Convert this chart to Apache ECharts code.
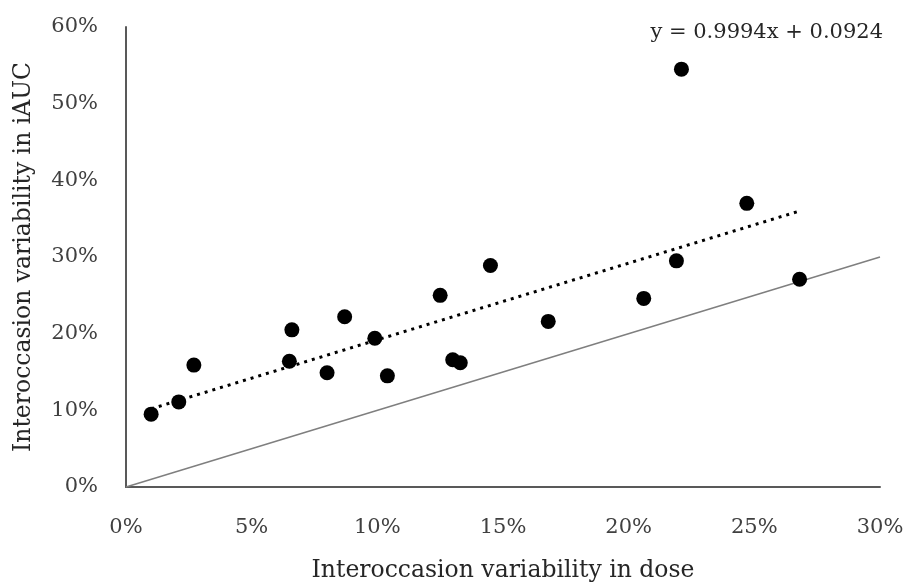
<!DOCTYPE html>
<html>
<head>
<meta charset="utf-8">
<script src="https://cdn.jsdelivr.net/npm/echarts@6/dist/echarts.min.js"></script>
<style>
  html, body { margin: 0; padding: 0; background: #fff; }
  #chart { width: 908px; height: 585px; }
</style>
</head>
<body>
<div id="chart"></div>
<script>
// interoccasion variability (%)
const doseCV = [1.0, 2.1, 2.7, 6.5, 6.6, 8.0, 8.7, 9.9, 10.4, 12.5, 13.0, 13.3, 14.5, 16.8, 20.6, 21.9, 22.1, 24.7, 26.8]
const iaucCV = [9.5, 11.1, 15.9, 16.4, 20.5, 14.9, 22.2, 19.4, 14.5, 25.0, 16.6, 16.2, 28.9, 21.6, 24.6, 29.5, 54.5, 37.0, 27.1]

// dotted trend line ends and identity line ends
const trendX = [1.0, 26.7]
const trendY = [10.2, 35.9]
const identX = [0, 30]
const identY = [0, 30]

const xTicks = [0, 5, 10, 15, 20, 25, 30]
const yTicks = [0, 10, 20, 30, 40, 50, 60]
const equation = 'y = 0.9994x + 0.0924'

const font = 'DejaVu Serif'
const chart = echarts.init(document.getElementById('chart'))

const pair = (xs, ys) => xs.map((x, i) => [x, ys[i]])

chart.setOption({
  animation: false,
  textStyle: { fontFamily: font },
  grid: { left: 126, right: 28, top: 27, bottom: 98, outerBoundsMode: 'none', containLabel: false },
  xAxis: {
    type: 'value',
    min: xTicks[0],
    max: xTicks[xTicks.length - 1],
    interval: 5,
    name: 'Interoccasion variability in dose',
    nameLocation: 'middle',
    nameGap: 72,
    nameTextStyle: { fontFamily: font, fontSize: 23.5, color: '#262626' },
    axisLine: { lineStyle: { color: '#595959', width: 2 } },
    axisTick: { show: false },
    splitLine: { show: false },
    axisLabel: { formatter: '{value}%', fontFamily: font, fontSize: 21, color: '#404040', margin: 30 }
  },
  yAxis: {
    type: 'value',
    min: yTicks[0],
    max: yTicks[yTicks.length - 1],
    interval: 10,
    name: 'Interoccasion variability in iAUC',
    nameLocation: 'middle',
    nameGap: 90,
    nameTextStyle: { fontFamily: font, fontSize: 23.5, color: '#262626' },
    axisLine: { show: true, lineStyle: { color: '#595959', width: 2 } },
    axisTick: { show: false },
    splitLine: { show: false },
    axisLabel: { formatter: '{value}%', fontFamily: font, fontSize: 21, color: '#404040', margin: 28 }
  },
  graphic: [{
    type: 'text',
    right: 25,
    top: 22,
    style: { text: equation, fontFamily: font, fontSize: 21, fill: '#262626' }
  }],
  series: [
    {
      type: 'line',
      data: pair(identX, identY),
      symbol: 'none',
      lineStyle: { color: '#7f7f7f', width: 1.5 },
      z: 1
    },
    {
      type: 'line',
      data: pair(trendX, trendY),
      symbol: 'none',
      lineStyle: { color: '#000', width: 3, type: [3, 5] },
      z: 2
    },
    {
      type: 'scatter',
      data: pair(doseCV, iaucCV),
      symbolSize: 15,
      itemStyle: { color: '#000', opacity: 1 },
      z: 3
    }
  ]
})
</script>
</body>
</html>
